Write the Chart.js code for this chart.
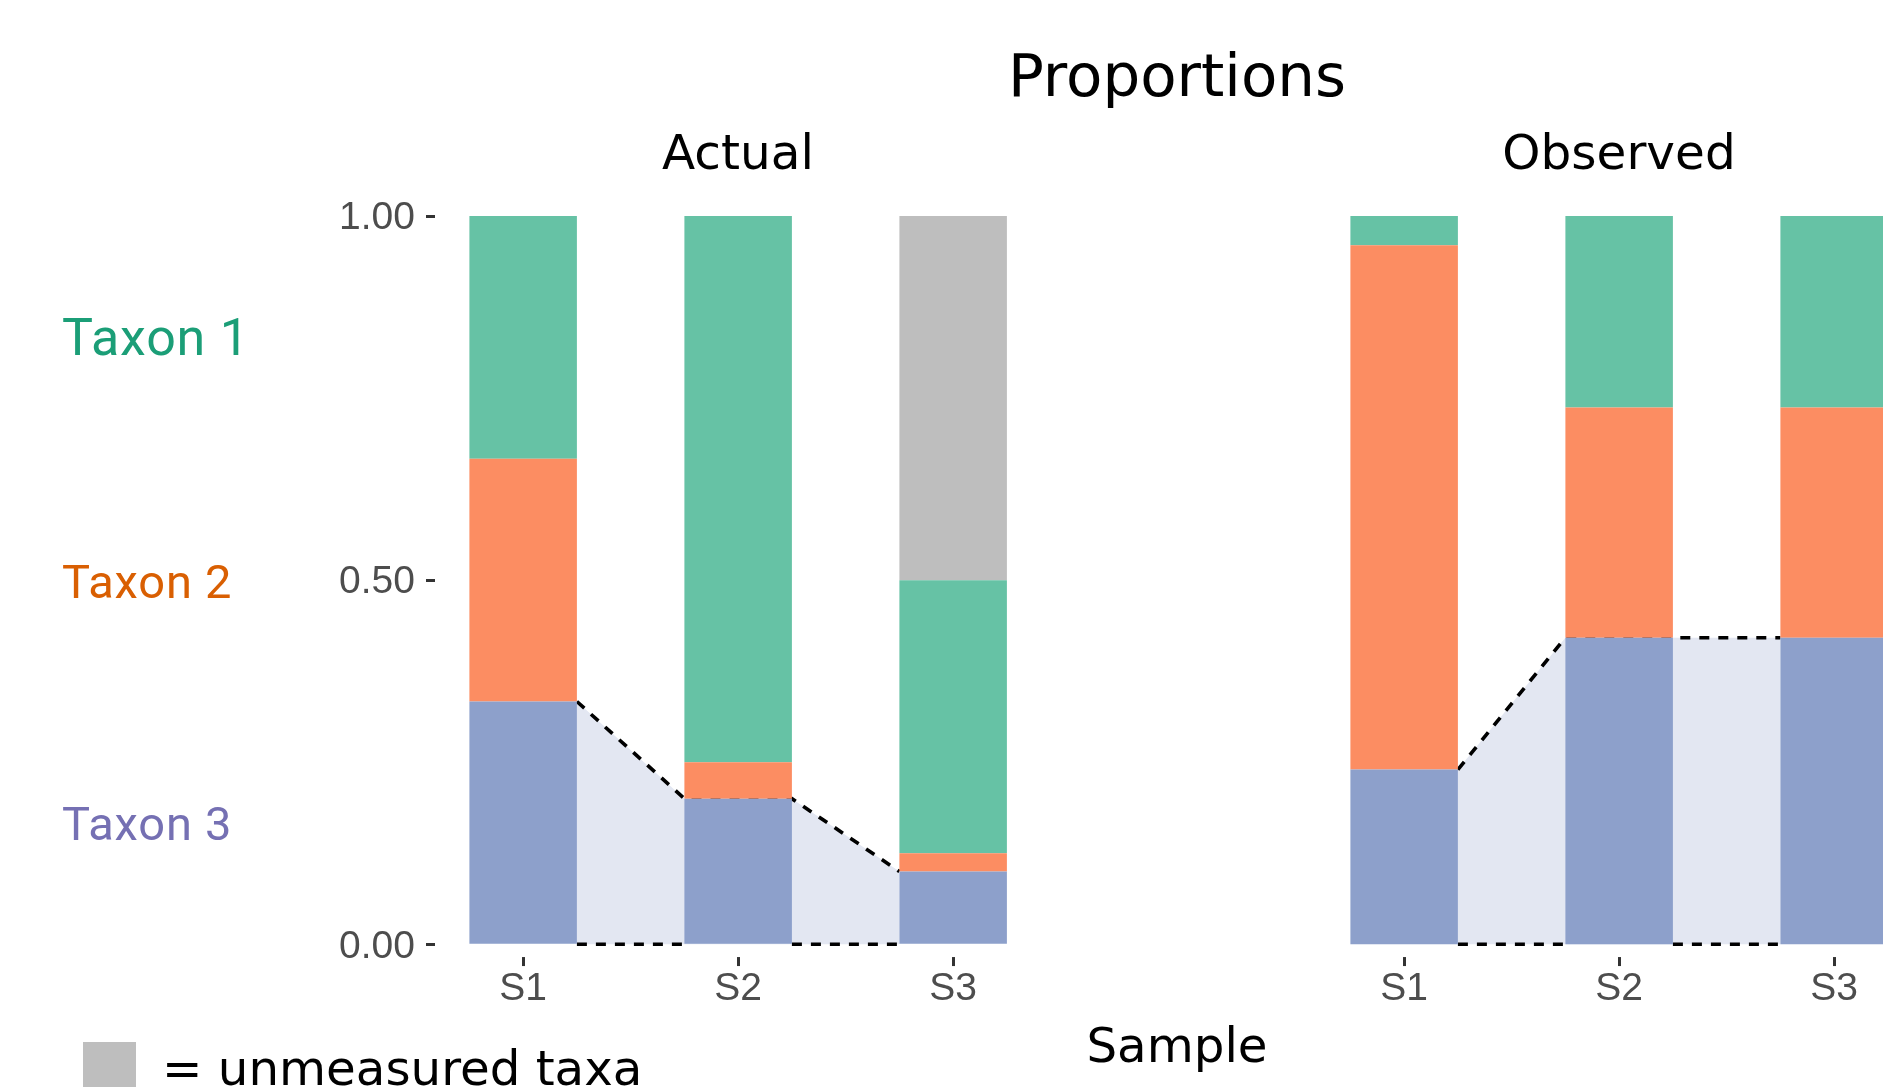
<!DOCTYPE html>
<html>
<head>
<meta charset="utf-8">
<script src="https://cdn.jsdelivr.net/npm/chart.js@4.4.1/dist/chart.umd.min.js"></script>
<style>
  html, body { margin: 0; padding: 0; background: #ffffff; }
  body { width: 1883px; height: 1087px; overflow: hidden; position: relative; }
  canvas { position: absolute; top: 0; }
  .txt { position: absolute; white-space: nowrap; line-height: 1; }
  .dj { font-family: "DejaVu Sans", sans-serif; color: #000000; }
  .rb { font-family: "Roboto", sans-serif; letter-spacing: 0.8px; }
</style>
</head>
<body>
<canvas id="actual" width="1100" height="1087" style="left:0px"></canvas>
<canvas id="observed" width="760" height="1087" style="left:1180px"></canvas>

<div class="txt dj" style="font-size:59.5px; top:46.4px; left:877px; width:600px; text-align:center;">Proportions</div>
<div class="txt dj" style="font-size:48.5px; top:128px; left:438px; width:600px; text-align:center;">Actual</div>
<div class="txt dj" style="font-size:48.5px; top:128px; left:1319px; width:600px; text-align:center;">Observed</div>
<div class="txt dj" style="font-size:48.3px; top:1021px; left:877px; width:600px; text-align:center;">Sample</div>

<div id="taxon1" class="txt rb" style="font-size:52px; top:311.6px; left:62px; color:#1B9E77;"></div>
<div id="taxon2" class="txt rb" style="font-size:47px; top:558px; left:62px; color:#D95F02;"></div>
<div id="taxon3" class="txt rb" style="font-size:47px; top:800.4px; left:62px; color:#7570B3;"></div>

<div style="position:absolute; left:83px; top:1042px; width:53px; height:60px; background:#BEBEBE;"></div>
<div class="txt dj" style="font-size:48.3px; top:1044.4px; left:162px;">= unmeasured taxa</div>

<script>
// ---------- data ----------
const categories = ['S1', 'S2', 'S3'];
const taxonLabels = ['Taxon 1', 'Taxon 2', 'Taxon 3'];
const yTickValues = [0, 0.5, 1];

const actualTaxon1 = [0.3333, 0.75, 0.375];
const actualTaxon2 = [0.3333, 0.05, 0.025];
const actualTaxon3 = [0.3334, 0.20, 0.10];
const actualUnmeasured = [0, 0, 0.5];

const observedTaxon1 = [0.04, 0.263, 0.263];
const observedTaxon2 = [0.72, 0.316, 0.316];
const observedTaxon3 = [0.24, 0.421, 0.421];

// ---------- styling ----------
const COLORS = { t1: '#66C2A5', t2: '#FC8D62', t3: '#8DA0CB', un: '#BEBEBE', ribbon: '#E3E7F2' };
const BAR_WIDTH = 0.5;

document.getElementById('taxon1').textContent = taxonLabels[0];
document.getElementById('taxon2').textContent = taxonLabels[1];
document.getElementById('taxon3').textContent = taxonLabels[2];

function barData(arr) { return arr.map((v, i) => ({ x: i + 1, y: v })); }

function ribbonData(bottomArr) {
  const pts = [];
  for (let i = 0; i < bottomArr.length - 1; i++) {
    pts.push({ x: i + 1 + BAR_WIDTH / 2, y: bottomArr[i] });
    pts.push({ x: i + 2 - BAR_WIDTH / 2, y: bottomArr[i + 1] });
  }
  return pts;
}
function zeroData(n) {
  const pts = [];
  for (let i = 0; i < n - 1; i++) {
    if (i > 0) pts.push({ x: i + 1, y: null });
    pts.push({ x: i + 1 + BAR_WIDTH / 2, y: 0 });
    pts.push({ x: i + 2 - BAR_WIDTH / 2, y: 0 });
  }
  return pts;
}

function makeDatasets(t1, t2, t3, un) {
  const ds = [
    { type: 'bar', label: taxonLabels[2], data: barData(t3), backgroundColor: COLORS.t3, order: 0 },
    { type: 'bar', label: taxonLabels[1], data: barData(t2), backgroundColor: COLORS.t2, order: 0 },
    { type: 'bar', label: taxonLabels[0], data: barData(t1), backgroundColor: COLORS.t1, order: 0 },
  ];
  if (un) ds.push({ type: 'bar', label: 'unmeasured', data: barData(un), backgroundColor: COLORS.un, order: 0 });
  ds.push({
    type: 'line', label: 'ribbon', data: ribbonData(t3), stack: 'L1', order: 5,
    borderColor: '#000000', borderWidth: 3.6, borderDash: [10, 9], backgroundColor: COLORS.ribbon,
    fill: 'origin', pointRadius: 0, tension: 0
  });
  ds.push({
    type: 'line', label: 'zero', data: zeroData(t3.length), stack: 'L2', order: 4,
    borderColor: '#000000', borderWidth: 3.6, borderDash: [10, 9], fill: false,
    pointRadius: 0, tension: 0, spanGaps: false
  });
  return ds;
}

const tickFont = { family: "'Liberation Sans', Arial, sans-serif", size: 39 };

// small tick marks under each category, placed through the x scale
const xTickMarks = {
  id: 'xTickMarks',
  afterDraw(chart) {
    const xs = chart.scales.x;
    const ctx = chart.ctx;
    const y0 = chart.chartArea.bottom;
    ctx.save();
    ctx.strokeStyle = '#333333';
    ctx.lineWidth = 3;
    xs.ticks.forEach(t => {
      const px = Math.round(xs.getPixelForValue(t.value)) + 0.5;
      ctx.beginPath();
      ctx.moveTo(px, y0);
      ctx.lineTo(px, y0 + 9);
      ctx.stroke();
    });
    ctx.restore();
  }
};

function makeOptions(showY, pad) {
  return {
    responsive: false,
    animation: false,
    devicePixelRatio: 1,
    layout: { padding: pad },
    plugins: { legend: { display: false }, tooltip: { enabled: false } },
    datasets: { bar: { barPercentage: BAR_WIDTH, categoryPercentage: 1, borderWidth: 0 } },
    scales: {
      x: {
        type: 'linear', min: 0.59, max: 3.41, stacked: true, offset: false,
        afterBuildTicks: (s) => { s.ticks = categories.map((c, i) => ({ value: i + 1 })); },
        afterFit: (s) => { s.height = 70; },
        ticks: {
          callback: (v) => categories[Math.round(v) - 1],
          font: tickFont, color: '#4D4D4D', padding: 1, maxRotation: 0, autoSkip: false
        },
        grid: { display: false },
        border: { display: false }
      },
      y: {
        display: showY,
        min: -0.0175, max: 1.0175, stacked: true,
        afterBuildTicks: (s) => { s.ticks = yTickValues.map(v => ({ value: v })); },
        afterFit: (s) => { s.width = showY ? 135 : 0; },
        ticks: {
          callback: (v) => Number(v).toFixed(2),
          font: tickFont, color: '#4D4D4D', padding: 11, autoSkip: false, labelOffset: 2.5
        },
        grid: { display: true, offset: false, drawOnChartArea: false, drawTicks: true, tickLength: 9, tickWidth: 3, tickColor: '#333333' },
        border: { display: false }
      }
    }
  };
}

new Chart(document.getElementById('actual'), {
  type: 'bar',
  data: { datasets: makeDatasets(actualTaxon1, actualTaxon2, actualTaxon3, actualUnmeasured) },
  options: makeOptions(true, { left: 300, right: 58.7, top: 203.3, bottom: 59.95 }),
  plugins: [xTickMarks]
});

new Chart(document.getElementById('observed'), {
  type: 'bar',
  data: { datasets: makeDatasets(observedTaxon1, observedTaxon2, observedTaxon3, null) },
  options: makeOptions(false, { left: 136, right: 17.7, top: 203.3, bottom: 59.95 }),
  plugins: [xTickMarks]
});
</script>
</body>
</html>
